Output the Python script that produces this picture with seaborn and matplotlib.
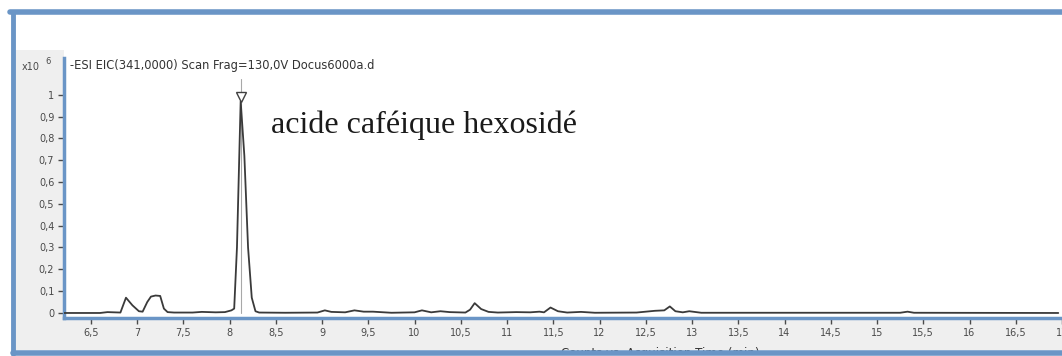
import matplotlib
matplotlib.use("Agg")
import matplotlib.pyplot as plt
from matplotlib.lines import Line2D
from matplotlib.patches import Rectangle
import numpy as np
import pandas as pd
import seaborn as sns

# Extracted ion chromatogram, m/z 341 (counts x10^6 vs. acquisition time in min)
time_min = [6.21, 6.60, 6.68, 6.75, 6.82, 6.88, 6.95, 7.02, 7.06, 7.11, 7.15,
            7.20, 7.25, 7.29, 7.33, 7.40, 7.60, 7.70, 7.85, 7.95, 8.02, 8.05,
            8.08, 8.12, 8.16, 8.20, 8.24, 8.28, 8.32, 8.60, 8.95, 9.03, 9.10,
            9.25, 9.35, 9.45, 9.55, 9.75, 10.00, 10.08, 10.18, 10.28, 10.38,
            10.55, 10.60, 10.65, 10.72, 10.80, 10.90, 11.10, 11.25, 11.35,
            11.40, 11.47, 11.55, 11.65, 11.80, 11.95, 12.40, 12.60, 12.70,
            12.76, 12.82, 12.90, 12.97, 13.10, 14.00, 15.25, 15.33, 15.40,
            16.96]
counts = [0.0, 0.0, 0.004, 0.003, 0.002, 0.07, 0.035, 0.008, 0.006, 0.05,
          0.075, 0.08, 0.078, 0.02, 0.004, 0.002, 0.002, 0.005, 0.003, 0.004,
          0.012, 0.02, 0.30, 0.97, 0.72, 0.30, 0.07, 0.008, 0.002, 0.001,
          0.002, 0.012, 0.005, 0.003, 0.012, 0.006, 0.006, 0.001, 0.003,
          0.012, 0.003, 0.008, 0.004, 0.002, 0.015, 0.045, 0.018, 0.005,
          0.002, 0.004, 0.003, 0.006, 0.003, 0.025, 0.008, 0.002, 0.005,
          0.001, 0.002, 0.01, 0.012, 0.03, 0.008, 0.003, 0.008, 0.001, 0.001,
          0.001, 0.006, 0.001, 0.0]

peak_rt = 8.12
peak_marker_level = 0.99
peak_label = "acide caféique hexosidé"

x_ticks = [6.5, 7, 7.5, 8, 8.5, 9, 9.5, 10, 10.5, 11, 11.5, 12, 12.5, 13,
           13.5, 14, 14.5, 15, 15.5, 16, 16.5, 17]
x_tick_labels = ["6,5", "7", "7,5", "8", "8,5", "9", "9,5", "10", "10,5", "11",
                 "11,5", "12", "12,5", "13", "13,5", "14", "14,5", "15", "15,5",
                 "16", "16,5", "17"]
y_ticks = [0, 0.1, 0.2, 0.3, 0.4, 0.5, 0.6, 0.7, 0.8, 0.9, 1.0]
y_tick_labels = ["0", "0,1", "0,2", "0,3", "0,4", "0,5", "0,6", "0,7", "0,8",
                 "0,9", "1"]

header = "-ESI EIC(341,0000) Scan Frag=130,0V Docus6000a.d"
x_title = "Counts vs. Acquisition Time (min)"

sns.set_theme(style="white")
plt.rcParams["font.family"] = ["DejaVu Sans"]

W, H = 1062, 356
fig = plt.figure(figsize=(W / 100, H / 100), dpi=100)
fig.patch.set_facecolor("white")

def fx(px):
    return px / W

def fy(py):
    return 1 - py / H

blue = "#6a95c6"
panel_gray = "#efefef"
tick_gray = "#4a4a4a"

# grey panels around the plot area
fig.patches.append(Rectangle((fx(14), fy(318)), fx(50), fy(50) - fy(318),
                             transform=fig.transFigure, facecolor=panel_gray,
                             edgecolor="none", zorder=0))
fig.patches.append(Rectangle((fx(14), fy(350)), fx(W - 14), fy(318) - fy(350),
                             transform=fig.transFigure, facecolor=panel_gray,
                             edgecolor="none", zorder=0))

ax = fig.add_axes([fx(64), fy(318), fx(W - 64), fy(58) - fy(318)])
ax.set_zorder(2)
ax.set_facecolor("white")

df = pd.DataFrame({"time": time_min, "counts": counts})
sns.lineplot(data=df, x="time", y="counts", ax=ax, color="#3a3a3a",
             linewidth=1.3, zorder=3)

# peak marker: vertical guide and open triangle
ax.plot([peak_rt, peak_rt], [0, 1.07], color="#a8a8a8", linewidth=0.8, zorder=2)
ax.plot([peak_rt], [peak_marker_level], marker="v", markersize=6.5,
        markerfacecolor="white", markeredgecolor="#404040", markeredgewidth=1.0,
        zorder=4)
ax.text(8.45, 0.826, peak_label, family="Liberation Serif", fontsize=23,
        color="#1a1a1a", va="baseline", ha="left")

ax.set_xlim(6.21, 16.96)
ax.set_ylim(-0.023, 1.168)
ax.set_xticks(x_ticks)
ax.set_xticklabels(x_tick_labels)
ax.set_yticks(y_ticks)
ax.set_yticklabels(y_tick_labels)
ax.set_xlabel("")
ax.set_ylabel("")
ax.tick_params(axis="both", which="major", direction="out", length=4,
               width=1, color=tick_gray, labelsize=7, labelcolor=tick_gray,
               pad=3, bottom=True, left=True)
for side in ("top", "right"):
    ax.spines[side].set_visible(False)
for side in ("left", "bottom"):
    ax.spines[side].set_color(blue)
    ax.spines[side].set_linewidth(2.5)

# counts scale and trace description
fig.text(fx(22), fy(67), "x10", fontsize=7, color=tick_gray, va="center")
fig.text(fx(45), fy(62), "6", fontsize=6, color=tick_gray, va="center")
fig.text(fx(70), fy(66), header, fontsize=8.3, color="#333333", va="center")

# axis title partly tucked under the lower window edge
fig.text(fx(660), fy(346.5), x_title, fontsize=8.5, color="#333333",
         ha="center", va="top", zorder=1)

# window frame
fig.lines.append(Line2D([fx(10), 1], [fy(12), fy(12)], transform=fig.transFigure,
                        color=blue, linewidth=4, zorder=5))
fig.lines.append(Line2D([fx(13), fx(13)], [fy(12), fy(354)],
                        transform=fig.transFigure, color=blue, linewidth=3.5,
                        zorder=5))
fig.lines.append(Line2D([fx(13), 1], [fy(352.5), fy(352.5)],
                        transform=fig.transFigure, color=blue, linewidth=4,
                        zorder=5))
fig.patches.append(Rectangle((fx(13), 0), 1, fy(352.5), transform=fig.transFigure,
                             facecolor="white", edgecolor="none", zorder=4))

fig.savefig("out.png", dpi=100)
